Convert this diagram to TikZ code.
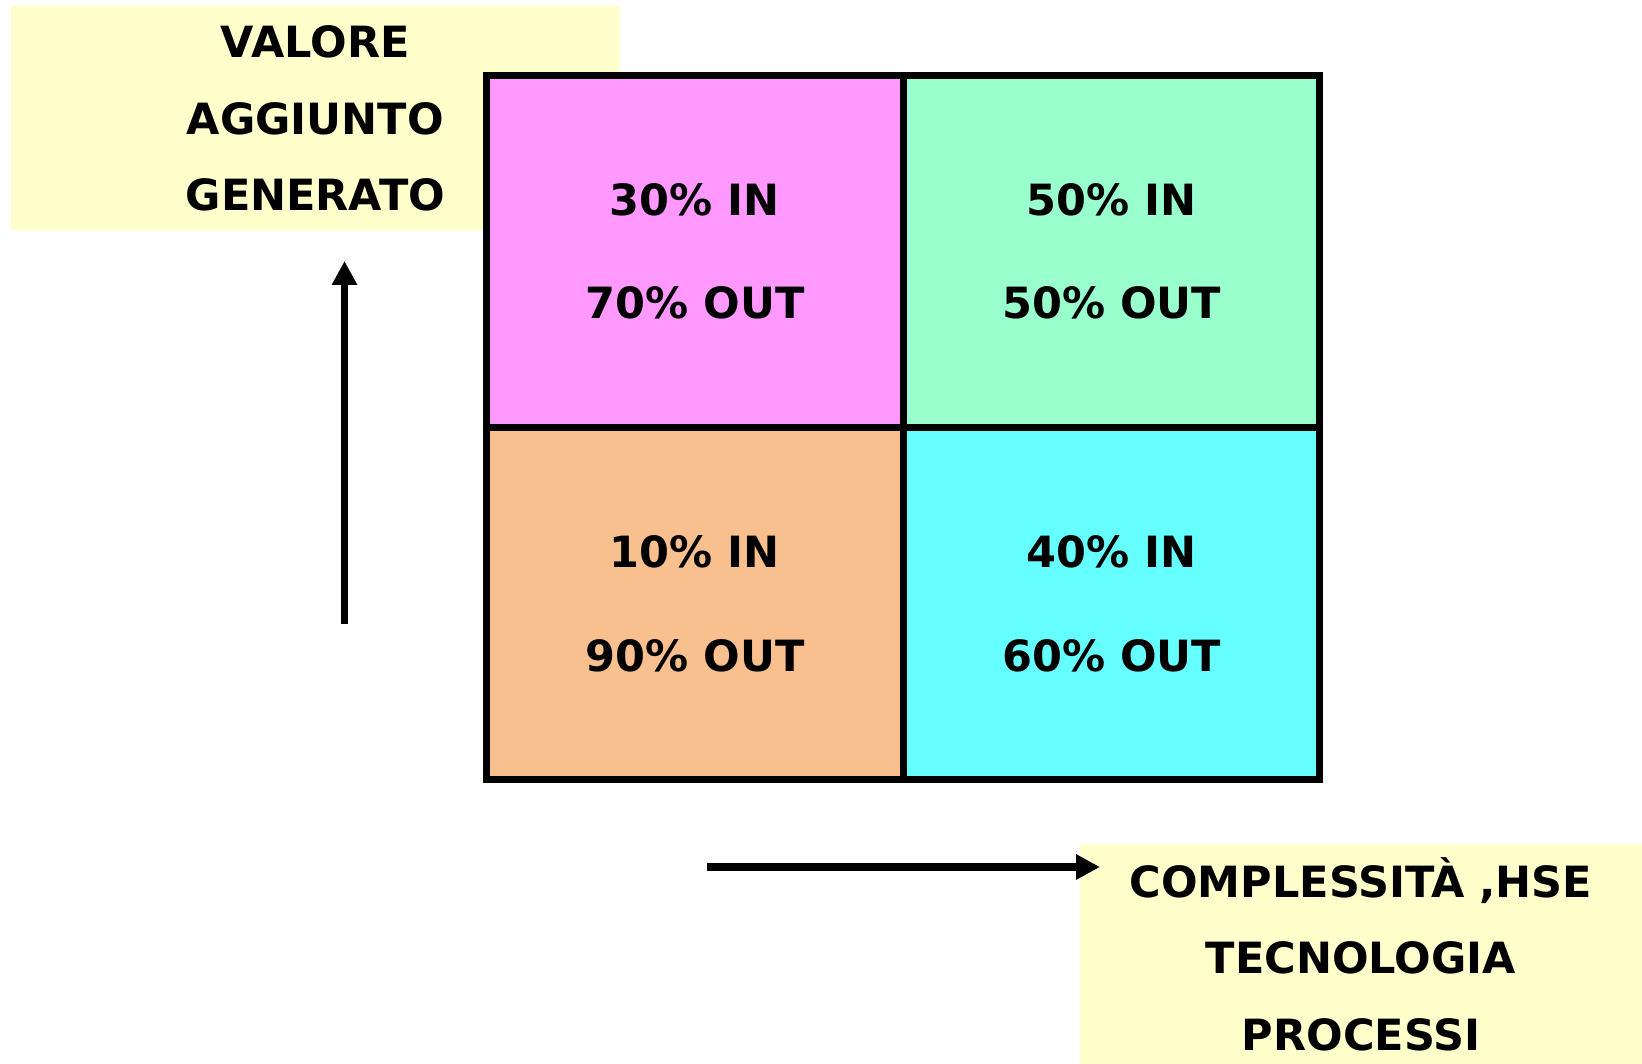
\documentclass[tikz,border=0pt]{standalone}
\usepackage{fontspec}
\setmainfont{DejaVu Sans}
\usetikzlibrary{arrows.meta}
\definecolor{notepaper}{HTML}{FFFFCC}
\definecolor{cellpink}{HTML}{FF99FF}
\definecolor{cellmint}{HTML}{99FFCC}
\definecolor{cellpeach}{HTML}{F8BF8F}
\definecolor{cellcyan}{HTML}{66FFFF}

\begin{document}
\begin{tikzpicture}[x=0.02cm,y=-0.02cm,font=\bfseries\fontsize{24.5}{43.5}\selectfont,note/.style={fill=notepaper,align=center,inner sep=0pt,minimum width=#1},cell/.style={draw,fill=#1,line width=4pt,align=center,inner sep=0pt,minimum width=8.33cm,minimum height=7.04cm,font=\bfseries\fontsize{24.5}{58.8}\selectfont},axis/.style={-{Triangle[length=0.48cm,width=0.48cm]},line width=4.2pt}]
\useasboundingbox (0,0) rectangle (1642,1064);
% labels of the two axes
\node[note=12.19cm, minimum height=4.48cm] (valore) at (315.3,118.4){VALORE\\AGGIUNTO\\GENERATO};
\node[note=11.23cm, minimum height=4.4cm] (complex) at (1361,954){COMPLESSITÀ ,HSE\\TECNOLOGIA\\PROCESSI};
% the four quadrants
\node[cell=cellpink] (topleft) at (694.9,251.4){30\% IN\\70\% OUT};
\node[cell=cellmint] (topright) at (1111.6,251.4){50\% IN\\50\% OUT};
\node[cell=cellpeach] (botleft) at (694.9,603.7){10\% IN\\90\% OUT};
\node[cell=cellcyan] (botright) at (1111.6,603.7){40\% IN\\60\% OUT};
% axis arrows
\coordinate (upfrom) at (344.5,624);\coordinate (upto) at (344.5,261);
\coordinate (rightfrom) at (707,867);\coordinate (rightto) at (1100,867);
\draw[axis] (upfrom) -- (upto);\draw[axis] (rightfrom) -- (rightto);
\end{tikzpicture}
\end{document}
